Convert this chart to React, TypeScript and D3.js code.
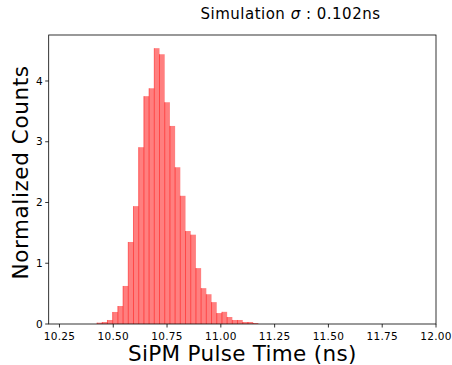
import React from "react";
import * as d3 from "d3";

const binStart = 10.4248;
const binWidth = 0.02418;
const counts = [
  0.022, 0.033, 0.066, 0.198, 0.296, 0.626, 1.35, 1.94, 2.91, 3.75, 3.88,
  4.54, 4.44, 3.65, 3.26, 2.58, 2.11, 1.53, 1.47, 0.92, 0.59, 0.49, 0.36,
  0.18, 0.2, 0.115, 0.066, 0.066, 0.033, 0.033, 0.016,
];
const xTicks = [10.25, 10.5, 10.75, 11.0, 11.25, 11.5, 11.75, 12.0];
const yTicks = [0, 1, 2, 3, 4];
const xDomain = [10.2, 12.0];
const yDomain = [0, 4.757];
const titlePre = "Simulation ";
const titleSym = "\u03c3";
const titlePost = " : 0.102ns";
const xLabel = "SiPM Pulse Time (ns)";
const yLabel = "Normalized Counts";

const W = 452;
const H = 365;
const L = 48.7;
const R = 436;
const T = 35;
const B = 324;
const font = "'DejaVu Sans', sans-serif";

export default function App() {
  const x = d3.scaleLinear().domain(xDomain).range([L, R]);
  const y = d3.scaleLinear().domain(yDomain).range([B, T]);
  const fmt = d3.format(".2f");
  return (
    <svg
      width={W}
      height={H}
      style={{ position: "absolute", left: 0, top: 0, background: "#fff", fontFamily: font }}
    >
      <rect x={0} y={0} width={W} height={H} fill="#fff" />
      {counts.map((c, i) => {
        const x0 = x(binStart + i * binWidth);
        const x1 = x(binStart + (i + 1) * binWidth);
        return (
          <g key={i}>
            <rect
              x={x0}
              y={y(c)}
              width={x1 - x0}
              height={y(0) - y(c)}
              fill="rgba(255,0,0,0.5)"
            />
            <line
              x1={x0}
              x2={x0}
              y1={y(c)}
              y2={y(0)}
              stroke="rgba(255,0,0,0.5)"
              strokeWidth={1}
            />
          </g>
        );
      })}
      <rect x={L} y={T} width={R - L} height={B - T} fill="none" stroke="#000" strokeWidth={0.8} />
      {xTicks.map((t) => (
        <g key={t} transform={`translate(${x(t)},${B})`}>
          <line y1={0} y2={3.5} stroke="#000" strokeWidth={0.8} />
          <text y={16} textAnchor="middle" fontSize={10.5} letterSpacing={0.3} fill="#000">
            {fmt(t)}
          </text>
        </g>
      ))}
      {yTicks.map((t) => (
        <g key={t} transform={`translate(${L},${y(t)})`}>
          <line x1={0} x2={-3.5} stroke="#000" strokeWidth={0.8} />
          <text x={-6} dy="0.35em" textAnchor="end" fontSize={10.5} fill="#000">
            {t}
          </text>
        </g>
      ))}
      <text x={290.5} y={18.5} textAnchor="middle" fontSize={15} letterSpacing={0.5} fill="#000">
        {titlePre}
        <tspan fontStyle="italic">{titleSym}</tspan>
        {titlePost}
      </text>
      <text x={(L + R) / 2} y={361} textAnchor="middle" fontSize={21.5} letterSpacing={0.3} fill="#000">
        {xLabel}
      </text>
      <text
        transform={`translate(28,${(T + B) / 2 - 7}) rotate(-90)`}
        textAnchor="middle"
        fontSize={21.5}
        letterSpacing={0.6}
        fill="#000"
      >
        {yLabel}
      </text>
    </svg>
  );
}
